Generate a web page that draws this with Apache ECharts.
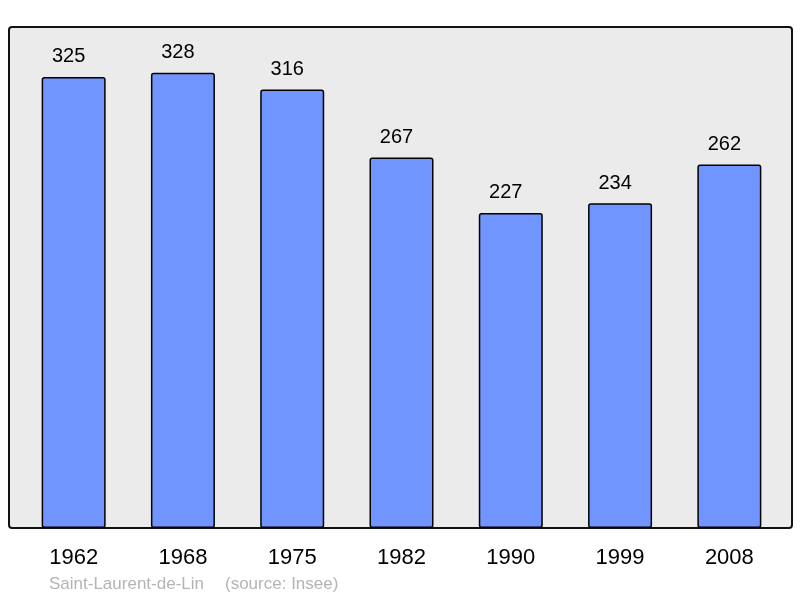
<!DOCTYPE html>
<html>
<head>
<meta charset="utf-8">
<script src="https://cdn.jsdelivr.net/npm/echarts@6/dist/echarts.min.js"></script>
<style>html,body{margin:0;padding:0;background:#fff}#chart{width:800px;height:598px}</style>
</head>
<body>
<div id="chart"></div>
<script>
var years = ['1962', '1968', '1975', '1982', '1990', '1999', '2008'];
var population = [325, 328, 316, 267, 227, 234, 262];

var chart = echarts.init(document.getElementById('chart'));

chart.setOption({
  animation: false,
  graphic: [
    {
      type: 'rect', z: -10,
      shape: { x: 9, y: 27, width: 783, height: 501, r: 3 },
      style: { fill: '#ebebeb', stroke: '#111', lineWidth: 2 }
    },
    {
      type: 'text', left: 49, top: 576,
      style: { text: 'Saint-Laurent-de-Lin', fill: '#b4b4b4', font: '17px "Liberation Sans", Arial, sans-serif' }
    },
    {
      type: 'text', left: 225, top: 576,
      style: { text: '(source: Insee)', fill: '#b4b4b4', font: '17px "Liberation Sans", Arial, sans-serif' }
    }
  ],
  grid: { left: 19, right: 16, top: 27, bottom: 70 },
  xAxis: {
    type: 'category',
    data: years,
    axisLine: { show: false },
    axisTick: { show: false },
    axisLabel: { color: '#000', fontSize: 22, margin: 19, fontFamily: '"Liberation Sans", Arial, sans-serif' }
  },
  yAxis: {
    type: 'value', min: 0, max: 361,
    show: false
  },
  series: [{
    type: 'bar',
    data: population,
    barWidth: 64,
    itemStyle: { color: '#7095ff', borderColor: '#000', borderWidth: 1.5, borderRadius: 2 },
    label: {
      show: true, position: 'top', distance: 10, offset: [-5, 0],
      color: '#000', fontSize: 20, fontFamily: '"Liberation Sans", Arial, sans-serif'
    }
  }]
});
</script>
</body>
</html>
